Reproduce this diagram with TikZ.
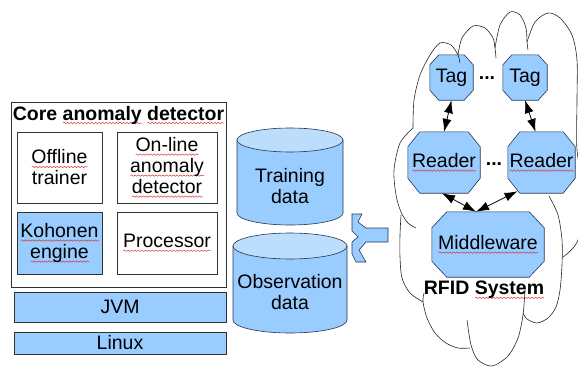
\documentclass[tikz,border=0pt]{standalone}
\usepackage{fontspec}
\setmainfont{Liberation Sans}
\usetikzlibrary{arrows.meta,decorations.pathmorphing,backgrounds}

\definecolor{boxblue}{RGB}{153,204,255}
\definecolor{cyltop}{RGB}{188,222,252}
\definecolor{navy}{RGB}{35,55,85}
\definecolor{edgegray}{RGB}{50,50,50}
\definecolor{spellred}{RGB}{215,45,45}

% red wavy spell-check underline under a word
\newlength\wavelen
\newcommand\spellwave[1]{\settowidth\wavelen{#1}\leavevmode\rlap{\tikz[baseline=0pt]\draw[spellred,line width=0.45pt,decorate,decoration={snake,amplitude=0.7pt,segment length=3.5pt}] (0pt,-3pt) -- (\wavelen,-3pt);}#1}

% octagon outline around a node: node name, horizontal cut, vertical cut
\newcommand\octoshape[3]{%
  \draw[octline] ([xshift=#2]#1.north west) -- ([xshift=-#2]#1.north east)
    -- ([yshift=-#3]#1.north east) -- ([yshift=#3]#1.south east)
    -- ([xshift=-#2]#1.south east) -- ([xshift=#2]#1.south west)
    -- ([yshift=#3]#1.south west) -- ([yshift=-#3]#1.north west) -- cycle;}

\begin{document}
\begin{tikzpicture}[x=1pt,y=-1pt,
  every node/.style={font=\fontsize{19.5}{21}\selectfont, align=center, inner sep=0pt, text=black},
  panel/.style={draw=edgegray, line width=0.6pt},
  whitebox/.style={panel, fill=white},
  bluebox/.style={panel, fill=boxblue},
  cylbody/.style={draw=navy, fill=boxblue, line width=0.6pt},
  octnode/.style={rectangle},
  octline/.style={draw=navy, fill=boxblue, line width=0.6pt},
  link/.style={{Latex[length=13pt,width=9pt]}-{Latex[length=13pt,width=9pt]}, line width=0.8pt},
  cloudline/.style={line width=0.6pt, draw=black!85},
  boldtext/.style={font=\bfseries\fontsize{19.5}{21}\selectfont}
]
\useasboundingbox (0,0) rectangle (578,367);

% ---- core anomaly detector stack ----
\node[panel, minimum width=215, minimum height=185] (core) at (118.5,194.5) {};
\node[boldtext] (title) at (118.5,115) {Core \spellwave{anomaly} \spellwave{detector}};
\node[whitebox, minimum width=85, minimum height=71] (offline) at (59.5,167.5) {\spellwave{Offline}\\trainer};
\node[whitebox, minimum width=100, minimum height=71] (online) at (167,167.5) {\spellwave{On-line}\\\spellwave{anomaly}\\\spellwave{detector}};
\node[bluebox, minimum width=85, minimum height=62] (kohonen) at (59.5,243) {\spellwave{Kohonen}\\\spellwave{engine}};
\node[whitebox, minimum width=100, minimum height=62] (proc) at (167,243) {\spellwave{Processor}};
\node[bluebox, minimum width=212, minimum height=30] (jvm) at (120,307) {JVM};
\node[bluebox, minimum width=212, minimum height=22] (linux) at (120,343) {Linux};

% ---- data stores ----
\path[cylbody] (237,140) -- (237,213) arc[start angle=180, end angle=360, x radius=53pt, y radius=12pt] -- (343,140) -- cycle;
\draw[navy, fill=cyltop, line width=0.6pt] (290,140) ellipse[x radius=53pt, y radius=12pt];
\node (train) at (290,186) {Training\\data};

\path[cylbody] (233,246) -- (233,320) arc[start angle=180, end angle=360, x radius=57pt, y radius=13pt] -- (347,246) -- cycle;
\draw[navy, fill=cyltop, line width=0.6pt] (290,246) ellipse[x radius=57pt, y radius=13pt];
\node (obs) at (290,292) {Observation\\data};

% ---- interface connector ----
\draw[navy, fill=boxblue, line width=0.6pt]
  (352,214) -- (362,214) -- (358,222) -- (366,228) -- (388,228) -- (388,242)
  -- (366,242) -- (359,250) -- (366,262) -- (356,262) -- (352,254) -- (352,242)
  -- (358,237) -- (352,231) -- cycle;

% ---- RFID cloud ----
\begin{scope}
\clip (0,0) rectangle (578,367);
\draw[cloudline] plot[smooth] coordinates {(413,128) (414,100) (420,75) (430,55) (440,43) (451,45) (458,55) (460,63)};
\draw[cloudline] plot[smooth] coordinates {(458,55) (462,38) (473,26) (485,28) (493,38) (495,48) (496,58)};
\draw[cloudline] plot[smooth] coordinates {(495,48) (500,25) (510,12) (520,15) (526,28) (527,42) (528,50)};
\draw[cloudline] plot[smooth] coordinates {(527,42) (535,22) (548,13) (560,18) (572,35) (577,60) (577,100) (577,150) (584,195) (578,240) (563,257)};
\draw[cloudline] plot[smooth] coordinates {(549,196) (558,215) (562,240) (562,265) (560,290) (556,307) (548,318) (537,323) (527,319) (523,313)};
\draw[cloudline] plot[smooth] coordinates {(525,290) (523,315) (518,338) (508,356) (492,366) (478,360) (471,345) (467,320)};
\draw[cloudline] plot[smooth] coordinates {(470,348) (458,348) (446,343) (435,333) (427,318) (423,302) (424,293)};
\draw[cloudline] plot[smooth] coordinates {(401,215) (400,235) (400,257) (402,278) (410,293) (423,302)};
\draw[cloudline] plot[smooth] coordinates {(413,128) (400,143) (394,170) (396,195) (401,212) (408,223) (416,228)};
\end{scope}

% ---- RFID components ----
\node[octnode, minimum width=43, minimum height=45] (tag1) at (451.5,77.5) {Tag};
\node[octnode, minimum width=44, minimum height=45] (tag2) at (525,77.5) {Tag};
\node[boldtext] (tdots) at (487,78) {...};
\node[octnode, minimum width=72, minimum height=61] (reader1) at (444,162.5) {\spellwave{Reader}};
\node[octnode, minimum width=67, minimum height=61] (reader2) at (541.5,162.5) {\spellwave{Reader}};
\node[boldtext] (rdots) at (494,164) {...};
\node[octnode, minimum width=112, minimum height=65] (mw) at (488,244.5) {\spellwave{Middleware}};
\node[boldtext] (rfid) at (484,290) {RFID \spellwave{System}};

\begin{scope}[on background layer]
  \octoshape{tag1}{9pt}{10pt}
  \octoshape{tag2}{9pt}{10pt}
  \octoshape{reader1}{12pt}{15pt}
  \octoshape{reader2}{12pt}{15pt}
  \octoshape{mw}{15pt}{16pt}
\end{scope}

\draw[link] (tag1.south) -- (reader1.north);
\draw[link] (tag2.south) -- ([xshift=-6pt]reader2.north);
\draw[link] ([xshift=-2pt]reader1.south) -- ([xshift=-12pt]mw.north);
\draw[link] ([xshift=-24pt,yshift=2pt]reader2.south) -- ([xshift=-12pt]mw.north);
\end{tikzpicture}
\end{document}
